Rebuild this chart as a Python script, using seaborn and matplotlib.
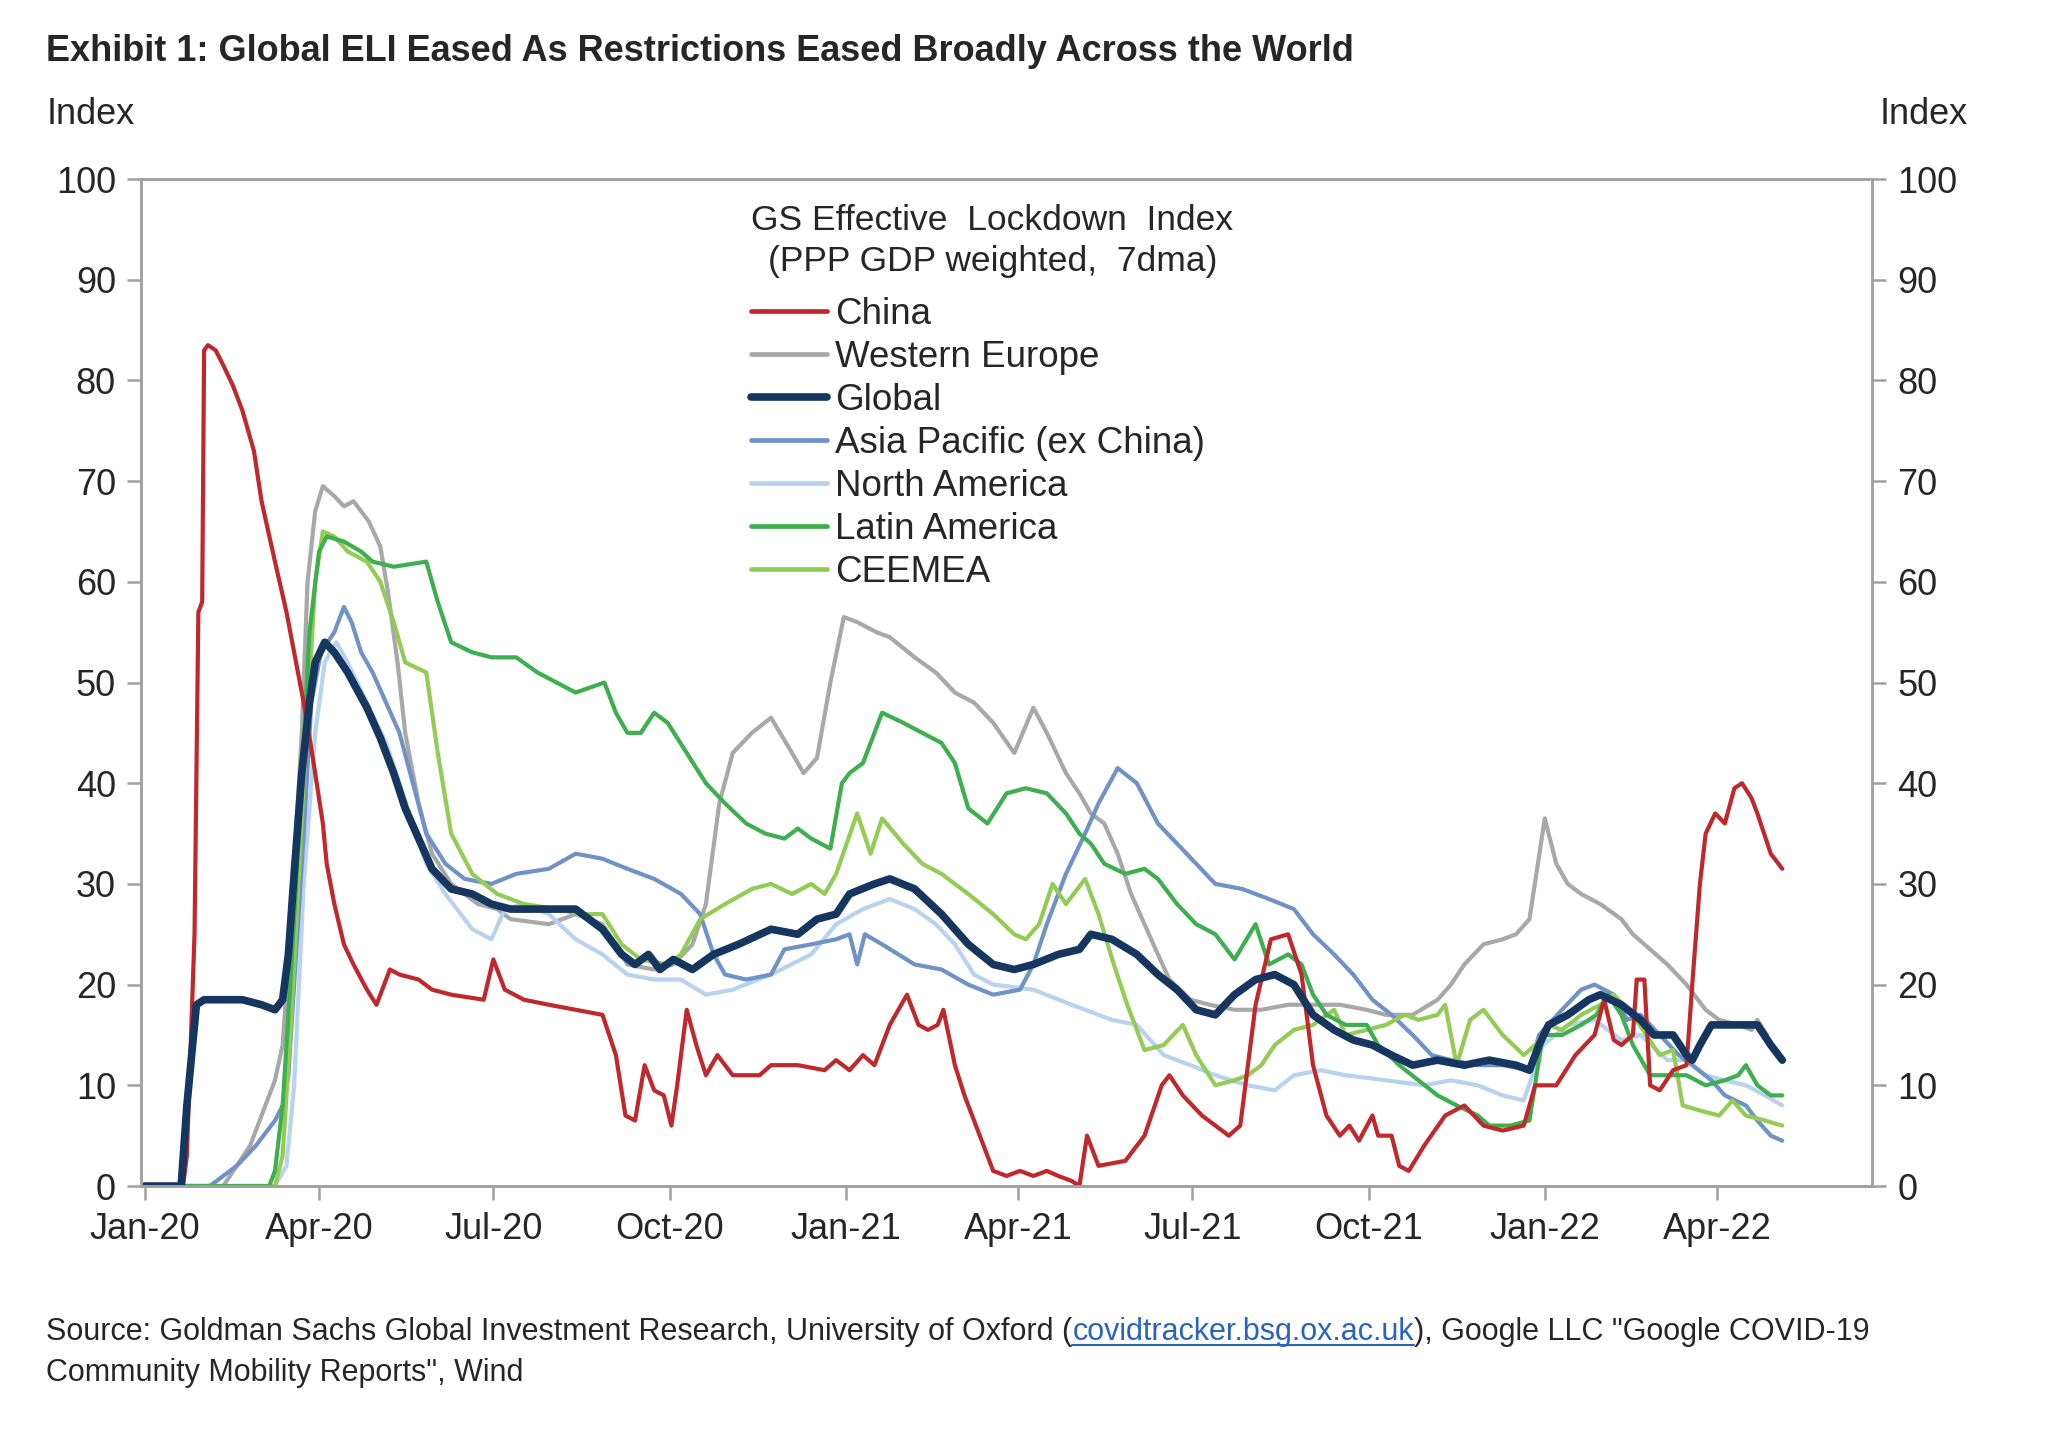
import numpy as np
import pandas as pd
import matplotlib.pyplot as plt
import matplotlib.dates as mdates
from matplotlib.lines import Line2D
import seaborn as sns

# days since 2020-01-01 and index values
china_day = [0, 20, 22, 26, 28, 30, 31, 33, 37, 41, 46, 51, 57, 61, 68, 74, 79, 84, 89, 93,
             95, 99, 104, 109, 116, 121, 128, 133, 143, 150, 160, 177, 182, 188, 198, 211,
             225, 239, 246, 251, 256, 261, 266, 271, 275, 278, 283, 288, 293, 299, 307, 321,
             327, 341, 355, 361, 368, 375, 381, 389, 398, 404, 409, 414, 417, 423, 428, 436,
             443, 450, 457, 464, 471, 477, 484, 488, 492, 498, 512, 522, 531, 535, 542, 552,
             566, 572, 580, 588, 597, 604, 610, 617, 624, 629, 634, 641, 644, 651, 655, 660,
             668, 679, 689, 699, 709, 720, 726, 737, 747, 757, 762, 767, 771, 777, 779, 783,
             786, 791, 798, 805, 808, 812, 815, 820, 825, 830, 834, 839, 842, 849, 855]
china_val = [0, 0, 3, 25, 57, 58, 83, 83.5, 83, 81.5, 79.5, 77, 73, 68, 62, 57, 52, 47, 41, 36,
             32, 28, 24, 22, 19.5, 18, 21.5, 21, 20.5, 19.5, 19, 18.5, 22.5, 19.5, 18.5, 18,
             17.5, 17, 13, 7, 6.5, 12, 9.5, 9, 6, 10, 17.5, 14, 11, 13, 11, 11,
             12, 12, 11.5, 12.5, 11.5, 13, 12, 16, 19, 16, 15.5, 16, 17.5, 12, 9, 5,
             1.5, 1, 1.5, 1, 1.5, 1, 0.5, 0, 5, 2, 2.5, 5, 10, 11, 9, 7,
             5, 6, 18, 24.5, 25, 21, 12, 7, 5, 6, 4.5, 7, 5, 5, 2, 1.5,
             4, 7, 8, 6, 5.5, 6, 10, 10, 13, 15, 18.5, 14.5, 14, 15, 20.5, 20.5,
             10, 9.5, 11.5, 12, 20, 30, 35, 37, 36, 39.5, 40, 38.5, 37, 33, 31.5]

weur_day = [0, 41, 48, 55, 61, 68, 72, 76, 82, 85, 89, 93, 99, 104, 109, 117, 123, 127, 132,
            136, 143, 150, 160, 174, 184, 191, 211, 225, 239, 246, 252, 266, 276, 286, 293,
            300, 307, 317, 327, 338, 344, 351, 358, 365, 372, 382, 389, 402, 413, 423, 433,
            443, 454, 464, 471, 481, 488, 494, 501, 508, 515, 522, 529, 535, 546, 556, 569,
            583, 597, 610, 624, 638, 648, 662, 675, 682, 689, 699, 709, 716, 723, 731, 737,
            743, 750, 760, 771, 777, 786, 795, 805, 815, 822, 832, 839, 842, 847]
weur_val = [0, 0, 2, 4, 7, 10.5, 14, 25, 45, 60, 67, 69.5, 68.5, 67.5, 68, 66, 63.5, 59, 52,
            45, 38, 33, 30, 28, 27.5, 26.5, 26, 27, 26, 24, 22, 21.5, 22, 24, 28,
            38, 43, 45, 46.5, 43, 41, 42.5, 50, 56.5, 56, 55, 54.5, 52.5, 51, 49, 48,
            46, 43, 47.5, 45, 41, 39, 37, 36, 33, 29, 26, 23, 20.5, 18.5, 18, 17.5,
            17.5, 18, 18, 18, 17.5, 17, 17, 18.5, 20, 22, 24, 24.5, 25, 26.5, 36.5, 32,
            30, 29, 28, 26.5, 25, 23.5, 22, 20, 17.5, 16.5, 16, 15.5, 16.5, 15]

glob_day = [0, 19, 22, 27, 31, 51, 61, 68, 72, 75, 78, 82, 86, 89, 94, 99, 106, 116, 123,
            130, 136, 143, 150, 160, 171, 181, 191, 205, 225, 239, 249, 256, 263, 269, 276,
            286, 297, 310, 327, 341, 351, 361, 368, 381, 389, 402, 416, 430, 443, 454, 464,
            477, 488, 494, 505, 518, 529, 539, 549, 559, 569, 580, 590, 600, 610, 621, 631,
            641, 651, 662, 675, 689, 702, 716, 723, 728, 733, 743, 754, 760, 771, 781, 788,
            798, 805, 808, 812, 818, 832, 842, 849, 855]
glob_val = [0, 0, 8, 18, 18.5, 18.5, 18, 17.5, 18.5, 23, 31, 41, 48, 52, 54, 53, 51, 47.5, 44.5,
            41, 37.5, 34.5, 31.5, 29.5, 29, 28, 27.5, 27.5, 27.5, 25.5, 23, 22, 23, 21.5, 22.5,
            21.5, 23, 24, 25.5, 25, 26.5, 27, 29, 30, 30.5, 29.5, 27, 24, 22, 21.5, 22,
            23, 23.5, 25, 24.5, 23, 21, 19.5, 17.5, 17, 19, 20.5, 21, 20, 17, 15.5, 14.5,
            14, 13, 12, 12.5, 12, 12.5, 12, 11.5, 14, 16, 17, 18.5, 19, 18, 16.5, 15,
            15, 13, 12.5, 14, 16, 16, 16, 14, 12.5]

apac_day = [0, 34, 41, 48, 58, 68, 72, 75, 78, 83, 87, 92, 99, 104, 108, 113, 119, 126, 133,
            140, 147, 157, 167, 181, 194, 211, 225, 239, 252, 266, 280, 290, 297, 303, 314,
            327, 334, 348, 361, 368, 372, 376, 385, 402, 416, 430, 443, 457, 464, 471, 481,
            491, 498, 508, 518, 529, 539, 549, 559, 573, 587, 600, 610, 621, 631, 641, 651,
            662, 672, 682, 696, 709, 723, 728, 740, 750, 757, 767, 774, 781, 791, 801, 808,
            818, 825, 836, 842, 849, 855]
apac_val = [0, 0, 1, 2, 4, 6.5, 8, 11, 20, 35, 48, 53, 55, 57.5, 56, 53, 51, 48, 45,
            40, 35, 32, 30.5, 30, 31, 31.5, 33, 32.5, 31.5, 30.5, 29, 27, 23, 21, 20.5,
            21, 23.5, 24, 24.5, 25, 22, 25, 24, 22, 21.5, 20, 19, 19.5, 22, 26, 31,
            35, 38, 41.5, 40, 36, 34, 32, 30, 29.5, 28.5, 27.5, 25, 23, 21, 18.5, 17,
            15, 13, 12.5, 12, 12, 11.5, 15, 17.5, 19.5, 20, 19, 16.5, 17, 15, 13, 12,
            10.5, 9, 8, 6.5, 5, 4.5]

nam_day = [0, 68, 74, 78, 83, 89, 94, 100, 106, 116, 126, 133, 140, 147, 157, 171, 181, 188,
           198, 211, 225, 239, 252, 266, 280, 293, 307, 327, 348, 361, 375, 389, 402, 413,
           423, 433, 443, 464, 484, 505, 518, 532, 546, 559, 576, 590, 600, 614, 627, 648,
           668, 682, 696, 709, 720, 730, 743, 757, 771, 781, 795, 805, 815, 825, 836, 846, 855]
nam_val = [0, 0, 2, 10, 30, 45, 52, 54, 52, 48, 44, 40, 36, 32, 29, 25.5, 24.5, 27.5,
           28, 27, 24.5, 23, 21, 20.5, 20.5, 19, 19.5, 21, 23, 26, 27.5, 28.5, 27.5, 26,
           24, 21, 20, 19.5, 18, 16.5, 16, 13, 12, 11, 10, 9.5, 11, 11.5, 11, 10.5,
           10, 10.5, 10, 9, 8.5, 14, 16, 16.5, 14.5, 15, 12.5, 12.5, 11, 10.5, 10, 9, 8]

latam_day = [0, 65, 68, 72, 76, 82, 86, 91, 95, 104, 113, 119, 130, 147, 153, 160, 171, 181,
             194, 205, 215, 225, 240, 246, 252, 259, 266, 273, 283, 293, 303, 314, 324, 334,
             341, 348, 358, 364, 368, 375, 385, 396, 406, 416, 423, 430, 440, 450, 460, 471,
             481, 488, 494, 501, 512, 522, 529, 539, 549, 559, 569, 580, 587, 597, 604, 610,
             617, 627, 638, 644, 655, 665, 675, 685, 696, 702, 713, 723, 730, 740, 750, 758,
             764, 771, 777, 786, 798, 805, 815, 825, 832, 836, 842, 849, 855]
latam_val = [0, 0, 1.5, 8, 20, 40, 55, 63, 64.5, 64, 63, 62, 61.5, 62, 58, 54, 53, 52.5,
             52.5, 51, 50, 49, 50, 47, 45, 45, 47, 46, 43, 40, 38, 36, 35, 34.5,
             35.5, 34.5, 33.5, 40, 41, 42, 47, 46, 45, 44, 42, 37.5, 36, 39, 39.5, 39,
             37, 35, 34, 32, 31, 31.5, 30.5, 28, 26, 25, 22.5, 26, 22, 23, 22, 19,
             17, 16, 16, 14, 12, 10.5, 9, 8, 7, 6, 6, 6.5, 15, 15, 16, 17,
             19, 17, 14, 11, 11, 11, 10, 10.5, 11, 12, 10, 9, 9]

ceemea_day = [0, 68, 72, 76, 83, 89, 93, 99, 106, 116, 123, 130, 136, 147, 153, 160, 171, 184,
              198, 215, 228, 239, 249, 259, 273, 280, 290, 303, 317, 327, 338, 348, 355, 361,
              372, 379, 385, 396, 406, 416, 430, 443, 454, 460, 467, 474, 481, 491, 498, 506,
              513, 522, 532, 542, 549, 559, 569, 576, 583, 590, 600, 610, 621, 627, 638, 648,
              658, 665, 675, 679, 685, 692, 699, 709, 720, 726, 733, 740, 750, 760, 767, 777,
              784, 791, 798, 803, 812, 822, 829, 836, 846, 855]
ceemea_val = [0, 0, 3, 15, 40, 60, 65, 64.5, 63, 62, 60, 56, 52, 51, 43, 35, 31, 29,
              28, 27.5, 27, 27, 24, 22.5, 22, 23, 26.5, 28, 29.5, 30, 29, 30, 29, 31,
              37, 33, 36.5, 34, 32, 31, 29, 27, 25, 24.5, 26, 30, 28, 30.5, 27, 22,
              18, 13.5, 14, 16, 13, 10, 10.5, 11, 12, 14, 15.5, 16, 17.5, 15, 15.5, 16,
              17, 16.5, 17, 18, 12, 16.5, 17.5, 15, 13, 14, 16, 15.5, 17, 18, 19, 17,
              15, 13, 13.5, 8, 7.5, 7, 8.5, 7, 6.5, 6]

series_names = ["China", "Western Europe", "Global", "Asia Pacific (ex China)",
                "North America", "Latin America", "CEEMEA"]
series_days = [china_day, weur_day, glob_day, apac_day, nam_day, latam_day, ceemea_day]
series_vals = [china_val, weur_val, glob_val, apac_val, nam_val, latam_val, ceemea_val]
colors = {
    "China": "#c0282b",
    "Western Europe": "#a8a8a8",
    "Global": "#14365f",
    "Asia Pacific (ex China)": "#6f93c6",
    "North America": "#b7d3ef",
    "Latin America": "#3daf4f",
    "CEEMEA": "#93cc55",
}
draw_order = ["Western Europe", "North America", "Asia Pacific (ex China)", "CEEMEA",
              "Latin America", "China", "Global"]

base = pd.Timestamp("2020-01-01")
frames = []
for name, d, v in zip(series_names, series_days, series_vals):
    frames.append(pd.DataFrame({"date": base + pd.to_timedelta(d, unit="D"),
                                "value": v, "series": name}))
df = pd.concat(frames, ignore_index=True)

sns.set_style("ticks")
plt.rcParams["font.family"] = ["Liberation Sans", "DejaVu Sans"]
TXT = "#262626"
SPINE = "#a0a0a0"

fig = plt.figure(figsize=(20.48, 14.31), dpi=100)
ax = fig.add_axes([0.0688, 0.1712, 0.8454, 0.7037])

for name in draw_order:
    sub = df[df["series"] == name]
    sns.lineplot(data=sub, x="date", y="value", ax=ax, color=colors[name],
                 linewidth=5.5 if name == "Global" else 3.0, label=name)

ax.set_ylim(0, 100)
ax.set_xlim(pd.Timestamp("2019-12-30"), pd.Timestamp("2022-06-21"))
ax.set_yticks(range(0, 101, 10))
ax.xaxis.set_major_locator(mdates.MonthLocator(bymonth=[1, 4, 7, 10]))
ax.xaxis.set_major_formatter(mdates.DateFormatter("%b-%y"))
ax.set_xlabel("")
ax.set_ylabel("")

ax2 = ax.twinx()
ax2.set_ylim(0, 100)
ax2.set_yticks(range(0, 101, 10))

for a in (ax, ax2):
    for sp in a.spines.values():
        sp.set_color(SPINE)
        sp.set_linewidth(1.8)
    a.tick_params(axis="both", colors=SPINE, labelcolor=TXT, labelsize=26,
                  length=10, width=1.8, direction="out")
ax.tick_params(axis="y", pad=8)
ax.tick_params(axis="x", pad=9)
ax2.tick_params(axis="y", pad=8)

handles, labels = ax.get_legend_handles_labels()
lookup = dict(zip(labels, handles))
leg = ax.legend([lookup[n] for n in series_names], series_names,
                title="GS Effective  Lockdown  Index\n(PPP GDP weighted,  7dma)",
                loc="upper left", bbox_to_anchor=(0.3525, 0.975), frameon=False,
                fontsize=26.5, title_fontsize=25.5, handlelength=2.05, handletextpad=0.22,
                labelspacing=0.22, borderpad=0, borderaxespad=0, alignment="left")
leg.get_title().set_multialignment("center")
leg.get_title().set_linespacing(1.3)
leg.get_title().set_color(TXT)
# a little more room between the legend title and the entries
leg._legend_box.sep = 13.5
for t in leg.get_texts():
    t.set_color(TXT)
for h in leg.legend_handles:
    h.set_linewidth(5.5 if h.get_label() == "Global" else 3.4)

fig.text(0.0225, 1 - 34 / 1431, "Exhibit 1: Global ELI Eased As Restrictions Eased Broadly Across the World",
         fontsize=26, fontweight="bold", color=TXT, va="top", ha="left")
fig.text(0.023, 1 - 115 / 1431, "Index", fontsize=26, color=TXT, va="center", ha="left")
fig.text(0.961, 1 - 115 / 1431, "Index", fontsize=26, color=TXT, va="center", ha="right")

# source note with link
src_y1 = 1 - 1340 / 1431
src_y2 = 1 - 1381 / 1431
fs = 22
parts = [("Source: Goldman Sachs Global Investment Research, University of Oxford (", TXT, False),
         ("covidtracker.bsg.ox.ac.uk", "#2a62c4", True),
         ("), Google LLC \"Google COVID-19", TXT, False)]
fig.canvas.draw()
renderer = fig.canvas.get_renderer()
xpos = 0.0225
for txt, col, link in parts:
    t = fig.text(xpos, src_y1, txt, fontsize=fs, color=col, va="baseline", ha="left")
    bb = t.get_window_extent(renderer=renderer)
    x0 = bb.x0 / fig.bbox.width
    x1 = bb.x1 / fig.bbox.width
    if link:
        fig.add_artist(Line2D([x0, x1], [src_y1 - 5 / 1431] * 2, color=col, linewidth=1.5))
    xpos = x1
fig.text(0.0225, src_y2, "Community Mobility Reports\", Wind", fontsize=fs, color=TXT,
         va="baseline", ha="left")

fig.savefig("out.png", dpi=100, facecolor="white")
